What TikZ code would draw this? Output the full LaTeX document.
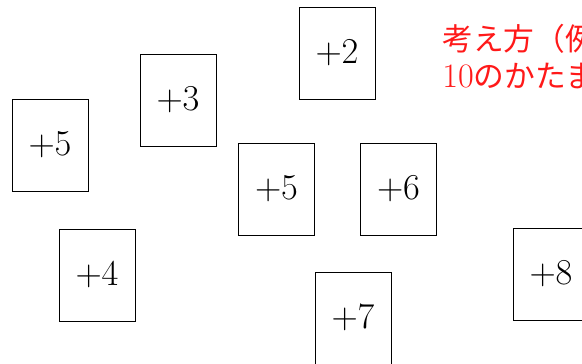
\documentclass[tikz,border=0pt]{standalone}
\usepackage{fontspec}
\newfontfamily\jpfont{Noto Sans CJK JP}
\usepackage{tikz}
\usetikzlibrary{positioning}

\begin{document}
\begin{tikzpicture}[card/.style={draw, line width=0.5pt, minimum width=1.52cm, minimum height=1.84cm, inner sep=0pt, font=\fontsize{20.5}{24}\selectfont}]
    \path[use as bounding box, clip] (0,0) rectangle (11.64,-7.26);
    % cards
    \node[card] (card2) at (6.74,-1.06) {$+2$};
    \node[card] (card3) at (3.56,-2.00) {$+3$};
    \node[card] (card5a) at (1.00,-2.90) {$+5$};
    \node[card] (card5b) at (5.53,-3.78) {$+5$};
    \node[card] (card6) at (7.97,-3.78) {$+6$};
    \node[card] (card4) at (1.94,-5.50) {$+4$};
    \node[card] (card7) at (7.06,-6.36) {$+7$};
    \node[card] (card8) at (11.02,-5.48) {$+8$};
    % note
    \node[anchor=base west, text=red!90!white, inner sep=0pt, font=\fontsize{17.5}{21}\selectfont] (note1) at (8.84,-1.00) {\jpfont 考え方（例};
    \node[anchor=base west, text=red!90!white, inner sep=0pt, font=\fontsize{17.5}{21}\selectfont] (note2) at (8.84,-1.74) {{\fontsize{19.5}{21}\selectfont 10}\jpfont のかたま};
\end{tikzpicture}
\end{document}
